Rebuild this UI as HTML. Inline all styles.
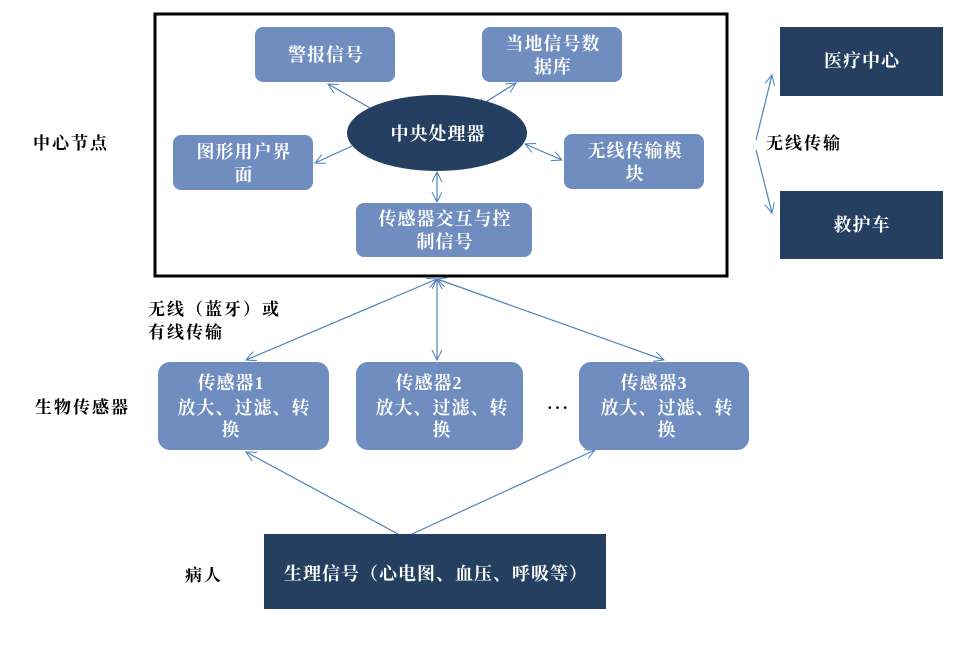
<!DOCTYPE html>
<html><head><meta charset="utf-8"><style>
body{margin:0;background:#fff;}
svg text{font-family:"Liberation Serif","Noto Serif CJK SC",serif;font-weight:bold;}
</style></head><body>
<svg width="976" height="659" viewBox="0 0 976 659" xmlns="http://www.w3.org/2000/svg">
<defs>
<marker id="a" markerWidth="12" markerHeight="12" refX="10" refY="5" orient="auto-start-reverse" markerUnits="userSpaceOnUse">
<path d="M0,0 L10,5 L0,10" fill="none" stroke="#4f81bd" stroke-width="1"/>
</marker>
</defs>
<rect x="155" y="14" width="572" height="262" fill="#fff" stroke="#000" stroke-width="3"/>
<g stroke="#4f81bd" stroke-width="1.2" fill="none">
<line x1="370" y1="108" x2="328" y2="84" marker-end="url(#a)"/>
<line x1="476" y1="108" x2="516" y2="83" marker-start="url(#a)" marker-end="url(#a)"/>
<line x1="352" y1="146" x2="315" y2="163" marker-end="url(#a)"/>
<line x1="525" y1="144" x2="562" y2="160" marker-start="url(#a)" marker-end="url(#a)"/>
<line x1="437" y1="172" x2="437" y2="202" marker-start="url(#a)" marker-end="url(#a)"/>
<line x1="437" y1="279" x2="246" y2="360" marker-start="url(#a)" marker-end="url(#a)"/>
<line x1="437" y1="279" x2="437" y2="360" marker-start="url(#a)" marker-end="url(#a)"/>
<line x1="437" y1="279" x2="664" y2="360" marker-start="url(#a)" marker-end="url(#a)"/>
<line x1="398" y1="534" x2="246" y2="452" marker-end="url(#a)"/>
<line x1="412" y1="534" x2="595" y2="450" marker-end="url(#a)"/>
<line x1="756" y1="140" x2="772" y2="75" marker-end="url(#a)"/>
<line x1="756" y1="150" x2="772" y2="213" marker-end="url(#a)"/>
</g>
<g fill="#6f8dbe">
<rect x="255" y="27" width="140" height="55" rx="8"/>
<rect x="482" y="27" width="140" height="55" rx="8"/>
<rect x="173" y="135" width="140" height="55" rx="8"/>
<rect x="564" y="134" width="140" height="55" rx="8"/>
<rect x="356" y="203" width="176" height="54" rx="8"/>
<rect x="158" y="362" width="171" height="88" rx="12"/>
<rect x="356" y="362" width="167" height="88" rx="12"/>
<rect x="579" y="362" width="170" height="88" rx="12"/>
</g>
<ellipse cx="437" cy="133" rx="90" ry="38" fill="#243f60"/>
<g fill="#243f60">
<rect x="780" y="27" width="163" height="69"/>
<rect x="780" y="191" width="163" height="68"/>
<rect x="264" y="534" width="342" height="75"/>
</g>
<g fill="#fff" font-size="18" text-anchor="middle" letter-spacing="1">
<text x="326" y="61">警报信号</text>
<text x="553" y="50">当地信号数</text>
<text x="553" y="73">据库</text>
<text x="244" y="158">图形用户界</text>
<text x="244" y="181">面</text>
<text x="635" y="157">无线传输模</text>
<text x="635" y="180">块</text>
<text x="445" y="225">传感器交互与控</text>
<text x="445" y="248">制信号</text>
<text x="438" y="140">中央处理器</text>
<text x="862" y="67">医疗中心</text>
<text x="862" y="231">救护车</text>
<text x="436" y="580">生理信号（心电图、血压、呼吸等）</text>
<text x="231" y="389">传感器1</text>
<text x="244" y="414">放大、过滤、转</text>
<text x="231" y="436">换</text>
<text x="429" y="389">传感器2</text>
<text x="442" y="414">放大、过滤、转</text>
<text x="442" y="436">换</text>
<text x="654" y="389">传感器3</text>
<text x="667" y="414">放大、过滤、转</text>
<text x="667" y="436">换</text>
</g>
<g fill="#000" font-size="17" letter-spacing="2">
<text x="33" y="149">中心节点</text>
<text x="766" y="149">无线传输</text>
<text x="148" y="315">无线（蓝牙）或</text>
<text x="148" y="338">有线传输</text>
<text x="35" y="413">生物传感器</text>
<text x="185" y="581">病人</text>
<text x="547" y="413">···</text>
</g>
</svg>
</body></html>
